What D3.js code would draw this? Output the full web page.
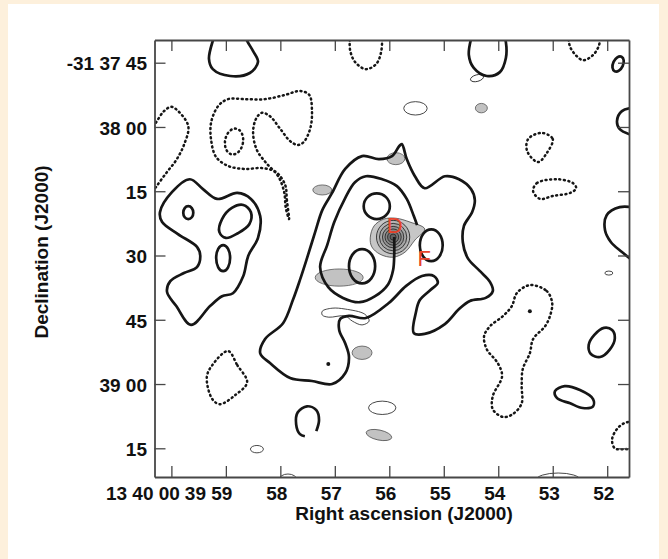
<!DOCTYPE html>
<html>
<head>
<meta charset="utf-8">
<script src="https://cdn.jsdelivr.net/npm/d3@7"></script>
<style>
  html, body { margin: 0; padding: 0; background: #fdf0dc; }
  svg { display: block; }
  .pos { fill: none; stroke: #161616; stroke-width: 2.7; stroke-linejoin: round; }
  .neg { fill: none; stroke: #161616; stroke-width: 2.5; stroke-dasharray: 1 3.6; stroke-linecap: round; }
  .thin { fill: none; stroke: #333; stroke-width: 0.9; }
  .shade { fill: #c2c2c2; stroke: #555; stroke-width: 0.8; }
</style>
</head>
<body>
<svg id="chart" width="668" height="559"></svg>
<script>
// RA in seconds of 13h39m (60 = 13 40 00), Dec in arcsec south of -31 37 00
const raTicks = [60, 59, 58, 57, 56, 55, 54, 53, 52];
const raTickLabels = ["13 40 00", "39 59", "58", "57", "56", "55", "54", "53", "52"];
const decTicks = [45, 60, 75, 90, 105, 120, 135];
const decTickLabels = ["-31 37 45", "38 00", "15", "30", "45", "39 00", "15"];

// thick solid contours (closed loops)
const posClosed = [
  [[59.66,72.2],[59.42,74.5],[59.16,76.8],[58.79,75.4],[58.54,76.8],[58.37,80.8],[58.41,85.9],[58.59,90.1],[58.68,94.8],[58.87,98.8],[59.07,99.5],[59.29,101.8],[59.64,106.2],[59.91,101.8],[60.08,98.5],[60.02,96.0],[59.77,94.1],[59.53,92.7],[59.47,90.1],[59.53,88.0],[59.88,85.0],[60.17,82.2],[60.21,79.9],[59.99,75.2]],
  [[58.68,78.2],[58.54,79.9],[58.57,82.7],[58.78,84.8],[59.00,85.9],[59.12,84.5],[59.07,81.5],[58.89,78.9]],
  [[55.77,64.0],[55.68,67.5],[55.53,71.5],[55.35,74.3],[54.98,71.5],[54.72,72.2],[54.50,74.5],[54.43,77.1],[54.48,79.9],[54.63,83.1],[54.65,86.9],[54.56,90.6],[54.34,93.6],[54.15,96.2],[54.10,98.3],[54.23,99.9],[54.52,100.6],[54.72,102.5],[54.98,106.0],[55.35,108.3],[55.55,108.1],[55.51,103.2],[55.44,100.4],[55.25,98.1],[55.11,96.4],[55.18,94.8],[55.40,94.8],[55.69,97.1],[56.01,101.1],[56.43,104.6],[56.74,104.1],[56.90,104.8],[56.92,107.4],[56.81,110.5],[56.74,113.7],[56.81,117.5],[57.05,120.0],[57.42,119.3],[57.82,118.6],[58.19,115.1],[58.37,112.8],[58.28,109.5],[57.95,105.8],[57.77,100.4],[57.64,95.7],[57.51,90.6],[57.36,84.5],[57.23,79.4],[57.05,75.4],[56.81,69.8],[56.50,66.8],[56.19,67.5],[55.95,66.8],[55.82,64.5]],
  [[52.06,106.9],[51.91,107.4],[51.86,109.3],[51.95,111.9],[52.13,113.7],[52.30,113.0],[52.34,110.9],[52.24,108.6]],
  [[52.96,121.7],[52.78,120.5],[52.50,121.4],[52.26,123.5],[52.26,125.2],[52.45,125.6],[52.68,124.5],[52.92,123.3]]
];

// thick solid contours that run off the frame or are broken
const posOpen = [
  [[59.20,38.5],[59.24,39.9],[59.31,44.1],[59.24,46.5],[58.92,48.1],[58.56,47.4],[58.41,44.8],[58.50,42.3],[58.61,39.9],[58.65,38.5]],
  [[54.48,38.5],[54.54,43.2],[54.45,46.2],[54.21,48.1],[53.97,47.2],[53.86,43.9],[53.86,40.2],[53.90,38.5]],
  [[51.45,55.4],[51.73,56.3],[51.82,58.6],[51.77,60.5],[51.45,62.3]],
  [[51.45,78.9],[51.77,78.7],[52.01,80.6],[52.04,84.1],[51.93,86.9],[51.73,89.2],[51.45,92.0]],
  [[57.34,131.0],[57.29,128.4],[57.34,126.1],[57.51,125.2],[57.68,126.6],[57.71,129.4],[57.64,131.7],[57.55,132.2]],
  [[55.91,85.7],[55.91,90.1],[55.93,93.4],[56.02,96.7],[56.26,99.5],[56.54,100.9],[56.85,99.9],[57.12,97.4],[57.27,92.7],[57.14,87.6],[57.01,82.2],[56.81,76.6],[56.63,72.9],[56.43,71.5],[56.13,72.2],[55.86,73.8],[55.68,76.8],[55.55,80.8],[55.49,82.9]]
];

// negative (dotted) contours
const negClosed = [
  [[57.84,81.5],[57.88,77.1],[57.91,73.6],[58.08,70.5],[58.34,69.6],[58.65,69.8],[58.96,69.1],[59.18,67.0],[59.27,63.1],[59.27,58.9],[59.14,55.1],[58.96,53.5],[58.65,53.5],[58.28,53.5],[57.91,52.5],[57.64,51.6],[57.47,52.5],[57.42,56.0],[57.45,60.3],[57.57,63.5],[57.68,64.2],[57.82,63.3],[58.01,60.3],[58.19,57.5],[58.34,56.7],[58.45,58.2],[58.50,61.4],[58.43,65.4],[58.26,68.4],[58.04,71.5],[57.93,75.2],[57.90,78.9]],
  [[58.96,112.3],[58.79,115.6],[58.61,119.6],[58.83,122.6],[59.11,124.7],[59.25,123.5],[59.35,118.4],[59.25,115.6]],
  [[53.20,61.4],[53.00,62.8],[53.11,66.1],[53.27,68.2],[53.47,65.6],[53.45,62.8]],
  [[53.36,75.0],[53.29,73.1],[52.92,72.2],[52.63,73.1],[52.57,74.3],[52.68,75.4],[53.00,76.1],[53.23,76.8]],
  [[53.42,96.9],[53.11,98.3],[53.01,101.1],[53.05,104.1],[53.14,106.5],[53.36,109.5],[53.42,112.8],[53.55,116.5],[53.57,120.5],[53.57,124.5],[53.73,127.0],[53.91,127.7],[54.10,125.9],[54.10,122.8],[53.93,118.2],[54.01,115.1],[54.21,111.9],[54.26,108.8],[54.15,106.5],[53.91,104.1],[53.75,101.8],[53.66,98.8]]
];
const negOpen = [
  [[60.39,60.7],[60.28,58.9],[60.15,56.5],[60.01,55.3],[59.90,56.0],[59.69,59.8],[59.77,64.2],[59.91,67.7],[60.08,70.5],[60.26,73.6],[60.35,75.2]],
  [[56.72,38.5],[56.72,42.0],[56.63,44.8],[56.43,46.5],[56.24,45.3],[56.15,42.5],[56.13,38.5]],
  [[52.72,38.5],[52.67,41.6],[52.45,44.4],[52.26,43.2],[52.15,40.9],[52.13,38.5]],
  [[51.45,128.5],[51.68,129.1],[51.82,130.5],[51.91,132.9],[51.86,135.0],[51.64,135.2],[51.45,135.4]]
];

// small loops as ellipses: [ra, dec, half-width (s), half-height ("), tilt (deg)]
const posOvals = [
  [59.69, 80.0, 0.092, 1.52, 0],
  [59.05, 90.6, 0.128, 3.04, 0],
  [56.23, 78.5, 0.24, 3.0, 0],
  [56.50, 92.5, 0.24, 4.0, 0],
  [55.23, 87.6, 0.21, 3.7, 0],
  [51.80, 45.3, 0.092, 1.87, 25]
];
const negOvals = [
  [58.85, 63.4, 0.165, 3.04, 10]
];
const thinOvals = [
  [55.52, 55.65, 0.215, 1.56, 0],
  [54.39, 48.6, 0.123, 0.77, -15],
  [56.13, 125.55, 0.251, 1.56, 0],
  [51.97, 94.1, 0.073, 0.47, 0],
  [52.90, 142.4, 0.404, 1.63, 0],
  [58.43, 135.2, 0.119, 0.86, 0],
  [57.86, 142.4, 0.165, 1.4, 0]
];
const thinClosed = [
  [[57.23,103.0],[57.05,102.3],[56.81,102.5],[56.45,103.7],[56.37,105.3],[56.50,106.2],[56.68,105.3],[56.81,104.1],[57.11,104.4],[57.23,103.9]]
];
const shadedOvals = [
  [57.23, 74.7, 0.174, 1.17, 0],
  [55.88, 67.4, 0.165, 1.4, 0],
  [54.31, 55.6, 0.11, 1.1, 0],
  [56.92, 95.15, 0.44, 2.0, 0],
  [56.50, 112.7, 0.183, 1.56, 0],
  [56.19, 131.9, 0.239, 1.17, 12]
];

// compact source D: outer shaded level and the nested rings (radius in arcsec)
const sourceOutline = [[56.35,85.9],[56.28,83.1],[56.10,81.5],[55.88,81.3],[55.62,82.2],[55.35,83.8],[55.53,86.4],[55.71,89.2],[55.93,90.4],[56.17,89.7],[56.32,88.0]];
const sourceCenter = [55.93, 85.7];
const sourceRings = [3.9, 3.2, 2.5, 1.9, 1.3, 0.7];
const ringShades = ["#b4b4b4", "#a5a5a5", "#969696", "#858585", "#737373", "#616161"];

const peakDots = [[53.42, 103.0], [57.12, 115.35]];
const sourceLabels = [["D", 55.90, 84.8], ["F", 55.36, 92.5]];

// arcsec per second of RA at this declination
const arcsecPerSec = 15 * Math.cos(31.63 * Math.PI / 180);

const plot = { left: 154.5, top: 40, right: 629, bottom: 477 };
const font = "'Liberation Sans', Arial, Helvetica, sans-serif";

const svg = d3.select("#chart");

svg.append("rect")
    .attr("x", 8).attr("y", 4)
    .attr("width", 651).attr("height", 560)
    .attr("fill", "#ffffff");

const x = d3.scaleLinear().domain([60.31, 51.6]).range([plot.left, plot.right]);
const y = d3.scaleLinear().domain([39.7, 141.7]).range([plot.top, plot.bottom]);

svg.append("defs").append("clipPath").attr("id", "plot-clip")
    .append("rect")
    .attr("x", plot.left).attr("y", plot.top)
    .attr("width", plot.right - plot.left).attr("height", plot.bottom - plot.top);

const g = svg.append("g").attr("clip-path", "url(#plot-clip)");

const closedLine = d3.line()
    .x(d => x(d[0])).y(d => y(d[1]))
    .curve(d3.curveCatmullRomClosed.alpha(0.5));
const openLine = d3.line()
    .x(d => x(d[0])).y(d => y(d[1]))
    .curve(d3.curveCatmullRom.alpha(0.5));

function drawOvals(list, cls) {
    g.selectAll(null)
        .data(list)
        .join("ellipse")
        .attr("class", cls)
        .attr("transform", d => `translate(${x(d[0])},${y(d[1])}) rotate(${d[4]})`)
        .attr("rx", d => Math.abs(x(d[0] + d[2]) - x(d[0])))
        .attr("ry", d => Math.abs(y(d[1] + d[3]) - y(d[1])));
}

// shaded emission underneath
drawOvals(shadedOvals, "shade");

g.append("path")
    .datum(sourceOutline)
    .attr("d", closedLine)
    .attr("fill", "#c6c6c6")
    .attr("stroke", "#444")
    .attr("stroke-width", 0.8);

g.selectAll(null)
    .data(sourceRings)
    .join("ellipse")
    .attr("cx", x(sourceCenter[0]))
    .attr("cy", y(sourceCenter[1]))
    .attr("rx", r => Math.abs(x(sourceCenter[0] + r / arcsecPerSec) - x(sourceCenter[0])))
    .attr("ry", r => Math.abs(y(sourceCenter[1] + r) - y(sourceCenter[1])))
    .attr("fill", (r, i) => ringShades[i])
    .attr("stroke", "#2a2a2a")
    .attr("stroke-width", 0.9);

// thin contours
drawOvals(thinOvals, "thin");
g.selectAll(null).data(thinClosed).join("path").attr("class", "thin").attr("d", closedLine);

// thick contours
g.selectAll(null).data(posClosed).join("path").attr("class", "pos").attr("d", closedLine);
g.selectAll(null).data(posOpen).join("path").attr("class", "pos").attr("d", openLine);
drawOvals(posOvals, "pos");

g.selectAll(null).data(negClosed).join("path").attr("class", "neg").attr("d", closedLine);
g.selectAll(null).data(negOpen).join("path").attr("class", "neg").attr("d", openLine);
drawOvals(negOvals, "neg");

g.selectAll(null)
    .data(peakDots)
    .join("circle")
    .attr("cx", d => x(d[0]))
    .attr("cy", d => y(d[1]))
    .attr("r", 2)
    .attr("fill", "#161616");

g.selectAll(null)
    .data(sourceLabels)
    .join("text")
    .attr("x", d => x(d[1]))
    .attr("y", d => y(d[2]))
    .attr("text-anchor", "middle")
    .attr("font-family", font)
    .attr("font-size", 22)
    .attr("fill", "#e8432b")
    .text(d => d[0]);

// axes, ticks pointing inward
function styleAxis(sel) {
    sel.select(".domain").attr("stroke", "#474747").attr("stroke-width", 1.8);
    sel.selectAll(".tick line").attr("stroke", "#474747").attr("stroke-width", 1.3);
    sel.selectAll(".tick text")
        .attr("font-family", font)
        .attr("font-size", 19)
        .attr("font-weight", "bold")
        .attr("fill", "#111");
}

const xAxis = svg.append("g")
    .attr("transform", `translate(0,${plot.bottom})`)
    .call(d3.axisBottom(x).tickValues(raTicks).tickFormat((d, i) => raTickLabels[i])
        .tickSize(-11).tickSizeOuter(0).tickPadding(10))
    .call(styleAxis);
xAxis.selectAll(".tick text").each(function (d, i) {
    const t = d3.select(this);
    if (i === 0) t.attr("text-anchor", "end").attr("dx", 8);
    else if (i === 1) t.attr("text-anchor", "end").attr("dx", 6);
    else t.attr("dx", -4);
});

svg.append("g")
    .attr("transform", `translate(0,${plot.top})`)
    .call(d3.axisTop(x).tickValues(raTicks).tickFormat("").tickSize(-11).tickSizeOuter(0))
    .call(styleAxis);

const yAxis = svg.append("g")
    .attr("transform", `translate(${plot.left},0)`)
    .call(d3.axisLeft(y).tickValues(decTicks).tickFormat((d, i) => decTickLabels[i])
        .tickSize(-11).tickSizeOuter(0).tickPadding(7.5))
    .call(styleAxis);
yAxis.selectAll(".tick text").attr("dy", "0.38em");

svg.append("g")
    .attr("transform", `translate(${plot.right},0)`)
    .call(d3.axisRight(y).tickValues(decTicks).tickFormat("").tickSize(-11).tickSizeOuter(0))
    .call(styleAxis);

svg.append("text")
    .attr("x", 404).attr("y", 520)
    .attr("text-anchor", "middle")
    .attr("font-family", font)
    .attr("font-size", 19)
    .attr("font-weight", "bold")
    .attr("fill", "#111")
    .text("Right ascension (J2000)");

svg.append("text")
    .attr("transform", "translate(48,252) rotate(-90)")
    .attr("text-anchor", "middle")
    .attr("font-family", font)
    .attr("font-size", 19)
    .attr("font-weight", "bold")
    .attr("fill", "#111")
    .text("Declination (J2000)");
</script>
</body>
</html>
